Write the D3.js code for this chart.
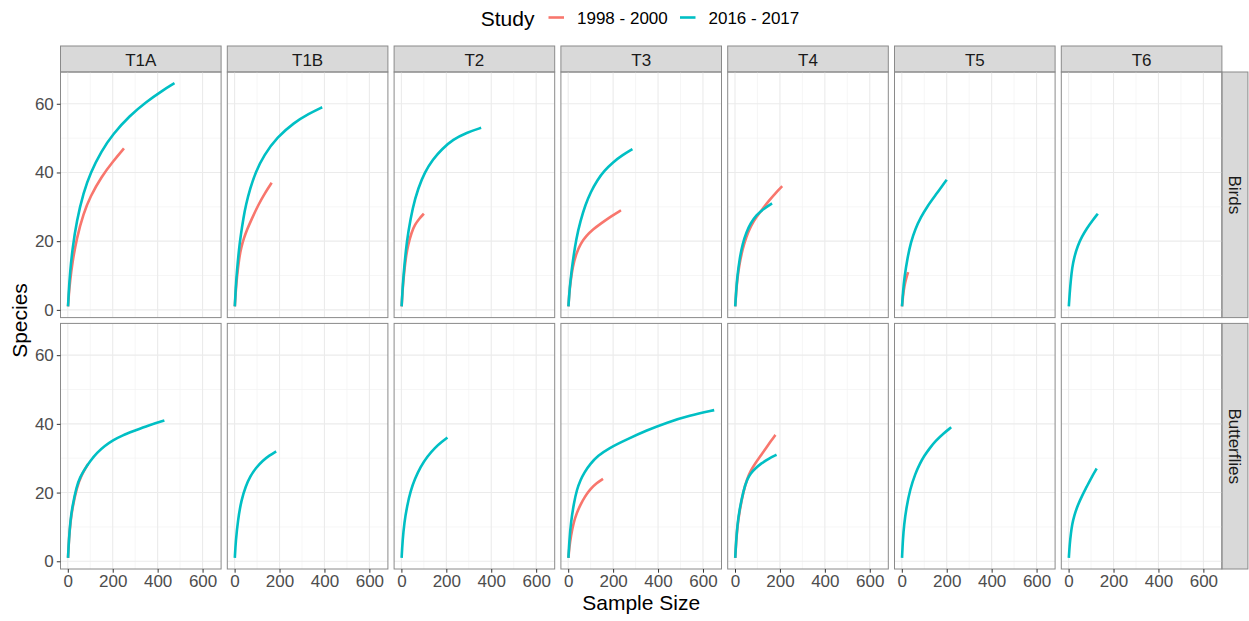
<!DOCTYPE html>
<html lang="en">
<head>
<meta charset="utf-8">
<title>Species rarefaction by transect</title>
<script src="https://d3js.org/d3.v7.min.js"></script>
<style>
  body { margin: 0; background: #fff; }
  svg text { font-family: "Liberation Sans", Arial, sans-serif; }
  .tick text { fill: #4D4D4D; font-size: 17px; }
  .tick line { stroke: #333; }
</style>
</head>
<body>
<div id="chart"></div>
<script>
// facets and legend
const transects = ["T1A", "T1B", "T2", "T3", "T4", "T5", "T6"];
const taxa = ["Birds", "Butterflies"];
const studies = ["1998 - 2000", "2016 - 2017"];
const studyColors = ["#F8766D", "#00BFC4"];
const xTicks = [0, 200, 400, 600];
const xMinor = [100, 300, 500];
const yTicks = [0, 20, 40, 60];
const yMinor = [10, 30, 50];

// rarefaction curves: [sample size, species]
const birdsT1A_old = [[1,1],[5,4.8],[10,8.3],[20,13.7],[40,21],[70,28.1],[100,33],[150,38.8],[200,43.1],[250,47]];
const birdsT1A_new = [[1,1],[5,6.2],[10,10.8],[20,17.5],[40,26.1],[70,34.2],[100,39.8],[150,46.3],[200,51.1],[275,56.5],[350,60.6],[420,63.8],[475,66]];
const birdsT1B_old = [[1,1],[5,5.3],[10,9.3],[20,15],[30,18.3],[41,20.8],[55,23.3],[75,26.3],[105,30.5],[135,34],[165,37]];
const birdsT1B_new = [[1,1],[5,6.5],[10,11],[20,18],[27,21.5],[40,27],[50,30.5],[70,35.5],[93,40],[130,45],[190,50.3],[264,54.5],[330,57.1],[390,59]];
const birdsT2_old = [[1,1],[5,5.5],[10,9.5],[20,15.5],[30,19],[45,22.5],[60,24.8],[80,26.6],[100,28]];
const birdsT2_new = [[1,1],[5,6],[10,10.5],[20,17.5],[30,22.5],[50,29.8],[75,35.5],[105,40.2],[140,43.8],[180,46.8],[230,49.6],[290,51.6],[355,53]];
const birdsT3_old = [[1,1],[5,4.8],[10,8],[20,12.5],[35,16.3],[55,19.3],[80,21.5],[110,23.4],[145,25.1],[190,27.2],[235,29]];
const birdsT3_new = [[1,1],[5,5],[10,8.5],[20,14],[36,20.8],[55,26],[76,30.5],[100,34.3],[130,37.8],[160,40.5],[200,43],[240,45],[286,46.8]];
const birdsT4_old = [[1,1],[5,5],[10,8.8],[20,13.5],[35,18],[50,21.2],[70,24.4],[95,27],[125,29.6],[150,31.7],[180,34],[210,36]];
const birdsT4_new = [[1,1],[5,5.5],[10,9.5],[20,14.8],[35,19.5],[50,22.5],[70,25.3],[95,27.6],[125,29.3],[165,31]];
const birdsT5_old = [[1,1],[5,4],[12,7.2],[20,9.3],[28,11]];
const birdsT5_new = [[1,1],[5,5],[12,9.7],[25,15],[40,19.6],[60,23.6],[85,27],[115,30.3],[150,33.4],[200,37.9]];
const birdsT6_new = [[1,1],[5,5],[10,8.8],[16,12.3],[25,15.3],[40,18.6],[60,21.4],[80,23.6],[105,25.9],[130,28]];

const buttT1A_old = [[1,1],[5,6.2],[12,11.6],[20,15.3],[40,21.5],[60,25],[90,28.3]];
const buttT1A_new = [[1,1],[5,6.5],[12,12.1],[20,15.8],[39,21.8],[55,24.5],[74,26.7],[100,29.2],[130,31.6],[165,33.6],[200,35.2],[245,36.7],[293,37.9],[360,39.6],[430,41]];
const buttT1B_new = [[1,1],[5,5.8],[15,12.1],[30,17.8],[49,21.8],[70,24.8],[95,27.2],[125,29.3],[155,30.8],[185,32]];
const buttT2_new = [[1,1],[5,5.8],[13,11.3],[25,16],[41,20.5],[60,24],[85,27.5],[115,30.5],[150,33.1],[180,34.8],[205,36]];
const buttT3_old = [[1,1],[5,4],[12,7.3],[24,11.3],[38,14],[53,16.3],[75,18.9],[98,21],[125,22.7],[155,24]];
const buttT3_new = [[1,1],[5,6],[12,11.3],[25,16.8],[39,21],[55,23.7],[71,25.8],[100,28.5],[132,30.7],[180,32.9],[261,35.5],[350,38.1],[439,40.4],[540,42.4],[650,44]];
const buttT4_old = [[1,1],[5,5.5],[11,10.3],[20,14.5],[38,20.5],[55,24.2],[70,26.4],[90,28.5],[115,30.8],[140,33.1],[160,35],[180,36.8]];
const buttT4_new = [[1,1],[5,6],[11,10.8],[20,15],[38,20.8],[55,24],[70,25.6],[90,27],[115,28.4],[150,29.9],[185,31]];
const buttT5_new = [[1,1],[5,6.5],[10,10.5],[20,15.5],[37,21],[60,25.5],[80,28.4],[100,30.7],[125,33],[150,35],[185,37.2],[220,39]];
const buttT6_new = [[1,1],[5,5],[10,8],[16,10.8],[25,13.3],[40,16.2],[61,19.2],[80,21.6],[100,24.2],[125,27]];

const curves = [
  ["Birds", "T1A", 0, birdsT1A_old], ["Birds", "T1A", 1, birdsT1A_new],
  ["Birds", "T1B", 0, birdsT1B_old], ["Birds", "T1B", 1, birdsT1B_new],
  ["Birds", "T2", 0, birdsT2_old], ["Birds", "T2", 1, birdsT2_new],
  ["Birds", "T3", 0, birdsT3_old], ["Birds", "T3", 1, birdsT3_new],
  ["Birds", "T4", 0, birdsT4_old], ["Birds", "T4", 1, birdsT4_new],
  ["Birds", "T5", 0, birdsT5_old], ["Birds", "T5", 1, birdsT5_new],
  ["Birds", "T6", 1, birdsT6_new],
  ["Butterflies", "T1A", 0, buttT1A_old], ["Butterflies", "T1A", 1, buttT1A_new],
  ["Butterflies", "T1B", 1, buttT1B_new],
  ["Butterflies", "T2", 1, buttT2_new],
  ["Butterflies", "T3", 0, buttT3_old], ["Butterflies", "T3", 1, buttT3_new],
  ["Butterflies", "T4", 0, buttT4_old], ["Butterflies", "T4", 1, buttT4_new],
  ["Butterflies", "T5", 1, buttT5_new],
  ["Butterflies", "T6", 1, buttT6_new]
];

var width = 1249, height = 621;
var panelLeft = 60.5, panelW = 160.6, gapX = 6.2;
var stripTop = 46, stripH = 26, panelH = 245.6, gapY = 5.8;
var rightStripW = 26;

var x = d3.scaleLinear().domain([-32.5, 682.5]).range([0, panelW]);
var y = d3.scaleLinear().domain([-2.25, 69.25]).range([panelH, 0]);

var line = d3.line()
    .x(function(d) { return x(d[0]); })
    .y(function(d) { return y(d[1]); })
    .curve(d3.curveBasis);

var svg = d3.select("#chart").append("svg")
    .attr("width", width)
    .attr("height", height);

function panelX(i) { return panelLeft + i * (panelW + gapX); }
function panelY(j) { return stripTop + stripH + j * (panelH + gapY); }

// top strips
transects.forEach(function(t, i) {
    var g = svg.append("g").attr("transform", "translate(" + panelX(i) + "," + stripTop + ")");
    g.append("rect").attr("width", panelW).attr("height", stripH)
        .attr("fill", "#D9D9D9").attr("stroke", "#8a8a8a");
    g.append("text").attr("x", panelW / 2).attr("y", stripH / 2 + 1)
        .attr("text-anchor", "middle").attr("dominant-baseline", "central")
        .attr("font-size", "17px").attr("fill", "#1A1A1A").text(t);
});

// right strips
taxa.forEach(function(tx, j) {
    var px = panelX(transects.length - 1) + panelW;
    var g = svg.append("g").attr("transform", "translate(" + px + "," + panelY(j) + ")");
    g.append("rect").attr("width", rightStripW).attr("height", panelH)
        .attr("fill", "#D9D9D9").attr("stroke", "#8a8a8a");
    g.append("text")
        .attr("transform", "translate(" + (rightStripW / 2) + "," + (panelH / 2) + ") rotate(90)")
        .attr("text-anchor", "middle").attr("dominant-baseline", "central")
        .attr("font-size", "17px").attr("fill", "#1A1A1A").text(tx);
});

// panels
taxa.forEach(function(tx, j) {
    transects.forEach(function(t, i) {
        var g = svg.append("g").attr("transform", "translate(" + panelX(i) + "," + panelY(j) + ")");

        g.selectAll(".minx").data(xMinor).enter().append("line")
            .attr("x1", x).attr("x2", x).attr("y1", 0).attr("y2", panelH)
            .attr("stroke", "#F2F2F2").attr("stroke-width", 0.7);
        g.selectAll(".miny").data(yMinor).enter().append("line")
            .attr("y1", y).attr("y2", y).attr("x1", 0).attr("x2", panelW)
            .attr("stroke", "#F2F2F2").attr("stroke-width", 0.7);
        g.selectAll(".majx").data(xTicks).enter().append("line")
            .attr("x1", x).attr("x2", x).attr("y1", 0).attr("y2", panelH)
            .attr("stroke", "#EBEBEB").attr("stroke-width", 1.1);
        g.selectAll(".majy").data(yTicks).enter().append("line")
            .attr("y1", y).attr("y2", y).attr("x1", 0).attr("x2", panelW)
            .attr("stroke", "#EBEBEB").attr("stroke-width", 1.1);

        curves.filter(function(c) { return c[0] === tx && c[1] === t; })
            .forEach(function(c) {
                g.append("path")
                    .datum(c[3])
                    .attr("fill", "none")
                    .attr("stroke", studyColors[c[2]])
                    .attr("stroke-width", 2.6)
                    .attr("d", line);
            });

        g.append("rect").attr("width", panelW).attr("height", panelH)
            .attr("fill", "none").attr("stroke", "#8a8a8a");

        if (i === 0) {
            g.append("g").call(d3.axisLeft(y).tickValues(yTicks).tickSize(3.7).tickPadding(3))
                .call(function(a) { a.select(".domain").remove(); });
        }
        if (j === taxa.length - 1) {
            g.append("g").attr("transform", "translate(0," + panelH + ")")
                .call(d3.axisBottom(x).tickValues(xTicks).tickSize(3.7).tickPadding(2.5))
                .call(function(a) { a.select(".domain").remove(); });
        }
    });
});

// axis titles
var plotRight = panelX(transects.length - 1) + panelW;
svg.append("text")
    .attr("x", (panelLeft + plotRight) / 2).attr("y", 610)
    .attr("text-anchor", "middle").attr("font-size", "21px").attr("fill", "#000")
    .text("Sample Size");
svg.append("text")
    .attr("transform", "translate(27," + (panelY(0) + panelY(1) + panelH) / 2 + ") rotate(-90)")
    .attr("text-anchor", "middle").attr("font-size", "21px").attr("fill", "#000")
    .text("Species");

// legend
var legend = svg.append("g");
legend.append("text").attr("x", 480.7).attr("y", 26)
    .attr("font-size", "21px").attr("fill", "#000").text("Study");
var keyX = [548.5, 680];
studies.forEach(function(s, k) {
    legend.append("line")
        .attr("x1", keyX[k]).attr("x2", keyX[k] + 15.5)
        .attr("y1", 17.5).attr("y2", 17.5)
        .attr("stroke", studyColors[k]).attr("stroke-width", 2.6);
    legend.append("text").attr("x", keyX[k] + 28.5).attr("y", 24)
        .attr("font-size", "17px").attr("fill", "#000").text(s);
});
</script>
</body>
</html>
